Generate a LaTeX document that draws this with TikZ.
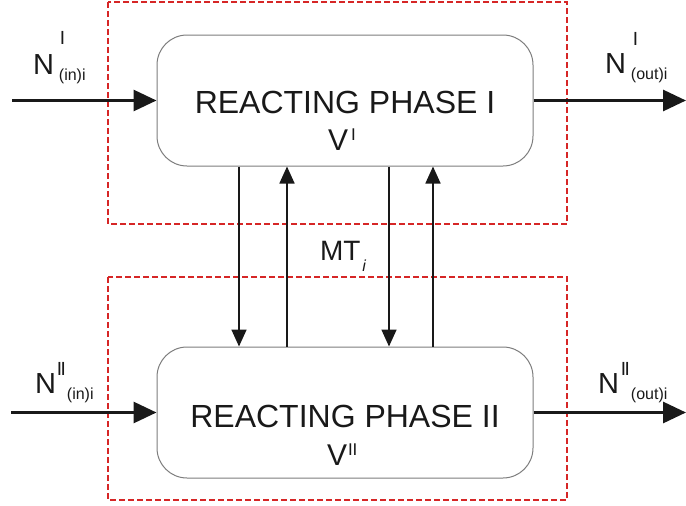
\documentclass[tikz,border=0pt]{standalone}
\usepackage{fontspec}
\setmainfont{Liberation Sans}
\usetikzlibrary{arrows.meta}
\definecolor{framered}{RGB}{214,38,38}
\definecolor{ink}{RGB}{25,25,25}
\definecolor{edgegray}{RGB}{125,125,125}
\newcommand\fs[1]{\fontsize{#1}{#1}\selectfont}
% N with a superscript phase and a subscript stream name
% #1 sup text, #2 sup shift, #3 sup raise, #4 sub text, #5 sub shift
\newcommand\flowlbl[5]{N\rlap{\hspace{#2}\raisebox{#3}{\fs{19}#1}}\hspace{#5}\raisebox{-6pt}{\fs{16}#4}}
\begin{document}
\begin{tikzpicture}[x=1pt,y=-1pt,
  phase/.style={draw=edgegray, line width=1pt, rounded corners=30pt, fill=white,
    minimum width=376pt, minimum height=131pt, inner sep=0pt},
  framebox/.style={draw=framered, line width=1.2pt, dash pattern=on 6pt off 3pt},
  flow/.style={draw=ink, line width=3pt, -{Triangle[length=23pt,width=21pt]}},
  mtflow/.style={draw=ink, line width=1.7pt, -{Triangle[length=17pt,width=15pt]}},
  txt/.style={text=ink, inner sep=0pt, outer sep=0pt}]
\useasboundingbox (0,0) rectangle (686,506);

% dashed control volumes
\draw[framebox] (108,2) rectangle (567,224);
\draw[framebox] (108,277) rectangle (567,500);

% the two reacting phases
\node[phase] (p1) at (345,100.5) {};
\node[phase] (p2) at (345,412.5) {};

% free ends of the feed and product streams
\coordinate (in1) at (12,100.5);
\coordinate (out1) at (686,100.5);
\coordinate (in2) at (11,412.5);
\coordinate (out2) at (686,412.5);

\draw[flow] (in1) -- (p1.west);
\draw[flow] (p1.east) -- (out1);
\draw[flow] (in2) -- (p2.west);
\draw[flow] (p2.east) -- (out2);

% mass transfer between the phases
\coordinate (x1) at (239,0);
\coordinate (x2) at (287,0);
\coordinate (x3) at (389,0);
\coordinate (x4) at (433,0);
\draw[mtflow] (p1.south -| x1) -- (p2.north -| x1);
\draw[mtflow] (p2.north -| x2) -- (p1.south -| x2);
\draw[mtflow] (p1.south -| x3) -- (p2.north -| x3);
\draw[mtflow] (p2.north -| x4) -- (p1.south -| x4);

% phase captions
\node[txt, anchor=base] (name1) at (345,113) {\fs{32}REACTING PHASE I};
\node[txt, anchor=base west] (vol1) at (328,150) {\fs{30}V\hspace{3pt}\raisebox{9.5pt}{\fs{17}I}};
\node[txt, anchor=base] (name2) at (345,427) {\fs{32}REACTING PHASE II};
\node[txt, anchor=base west] (vol2) at (327,465) {\fs{30}V\hspace{1pt}\raisebox{10pt}{\fs{17}II}};

% stream labels
\node[txt, anchor=base west] (nin1) at (33,74) {\fs{29}\flowlbl{I}{6pt}{30pt}{(in)i}{5pt}};
\node[txt, anchor=base west] (nout1) at (605,73) {\fs{29}\flowlbl{I}{7pt}{28pt}{(out)i}{5pt}};
\node[txt, anchor=base west] (nin2) at (35,393) {\fs{29}\flowlbl{I\kern-1.5pt I}{1pt}{18pt}{(in)i}{11pt}};
\node[txt, anchor=base west] (nout2) at (598,393) {\fs{29}\flowlbl{I\kern-1.5pt I}{2pt}{18pt}{(out)i}{12pt}};

% mass transfer label
\node[txt, anchor=base west] (mt) at (320,260) {\fs{28}MT\hspace{2pt}\raisebox{-11pt}{\fs{16}\itshape i}};
\end{tikzpicture}
\end{document}
